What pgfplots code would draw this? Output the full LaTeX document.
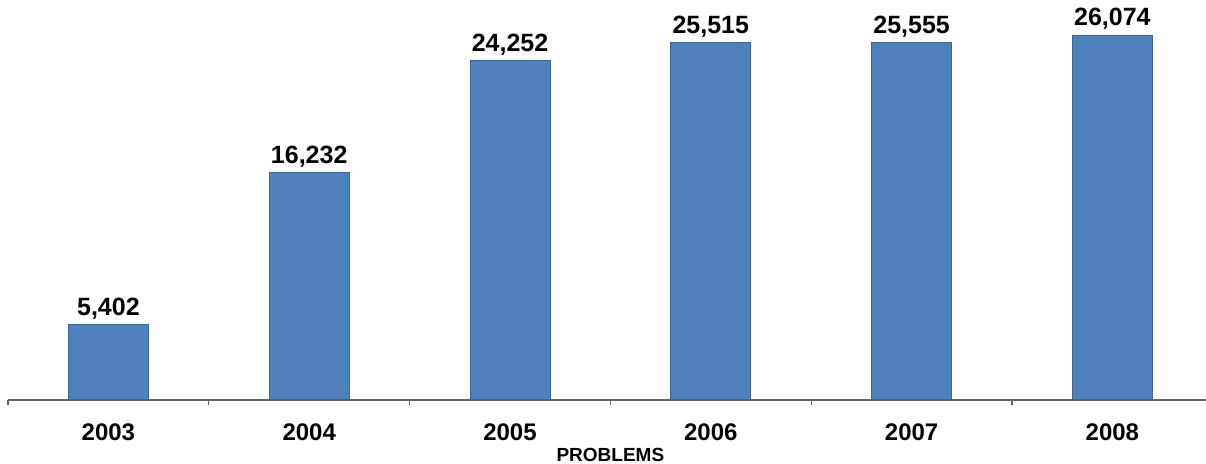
\documentclass[border=0pt]{standalone}
\usepackage{pgfplots}
\pgfplotsset{compat=1.18}
\usepackage{fontspec}
\setmainfont{Liberation Sans}
\definecolor{barblue}{HTML}{4F81BD}
\definecolor{baredge}{HTML}{3B6598}
\begin{document}
\begin{tikzpicture}
\useasboundingbox (0,0) rectangle (603pt,232pt);
\begin{axis}[
  at={(4pt,32pt)}, anchor=south west,
  scale only axis, width=602.4pt, height=200pt,
  xmin=-0.5, xmax=5.5, ymin=0, ymax=28575,
  hide y axis, axis x line*=bottom,
  axis line style={draw=gray!80!black, line width=0.6pt, -},
  xtick={0,1,2,3,4,5},
  xticklabels={2003,2004,2005,2006,2007,2008},
  major tick length=0pt,
  minor xtick={-0.5,0.5,1.5,2.5,3.5,4.5,5.5},
  minor tick length=2.5pt, tick align=outside,
  minor tick style={draw=gray!80!black, line width=0.6pt},
  xticklabel style={font=\fontsize{12}{14}\selectfont\bfseries, anchor=center, yshift=-16pt},
  xlabel={PROBLEMS},
  xlabel style={font=\fontsize{9.5}{11}\selectfont\bfseries, anchor=center, at={(axis description cs:0.5,0)}, yshift=-27.3pt},
  clip=false,
  /pgf/number format/assume math mode=true,
  nodes near coords,
  nodes near coords style={font=\fontsize{12.5}{15}\selectfont\bfseries, /pgf/number format/1000 sep={,}, yshift=-1pt},
]
\addplot[ybar, bar width=40pt, fill=barblue, draw=baredge, line width=0.5pt]
 coordinates {(0,5402) (1,16232) (2,24252) (3,25515) (4,25555) (5,26074)};
\end{axis}
\end{tikzpicture}
\end{document}
